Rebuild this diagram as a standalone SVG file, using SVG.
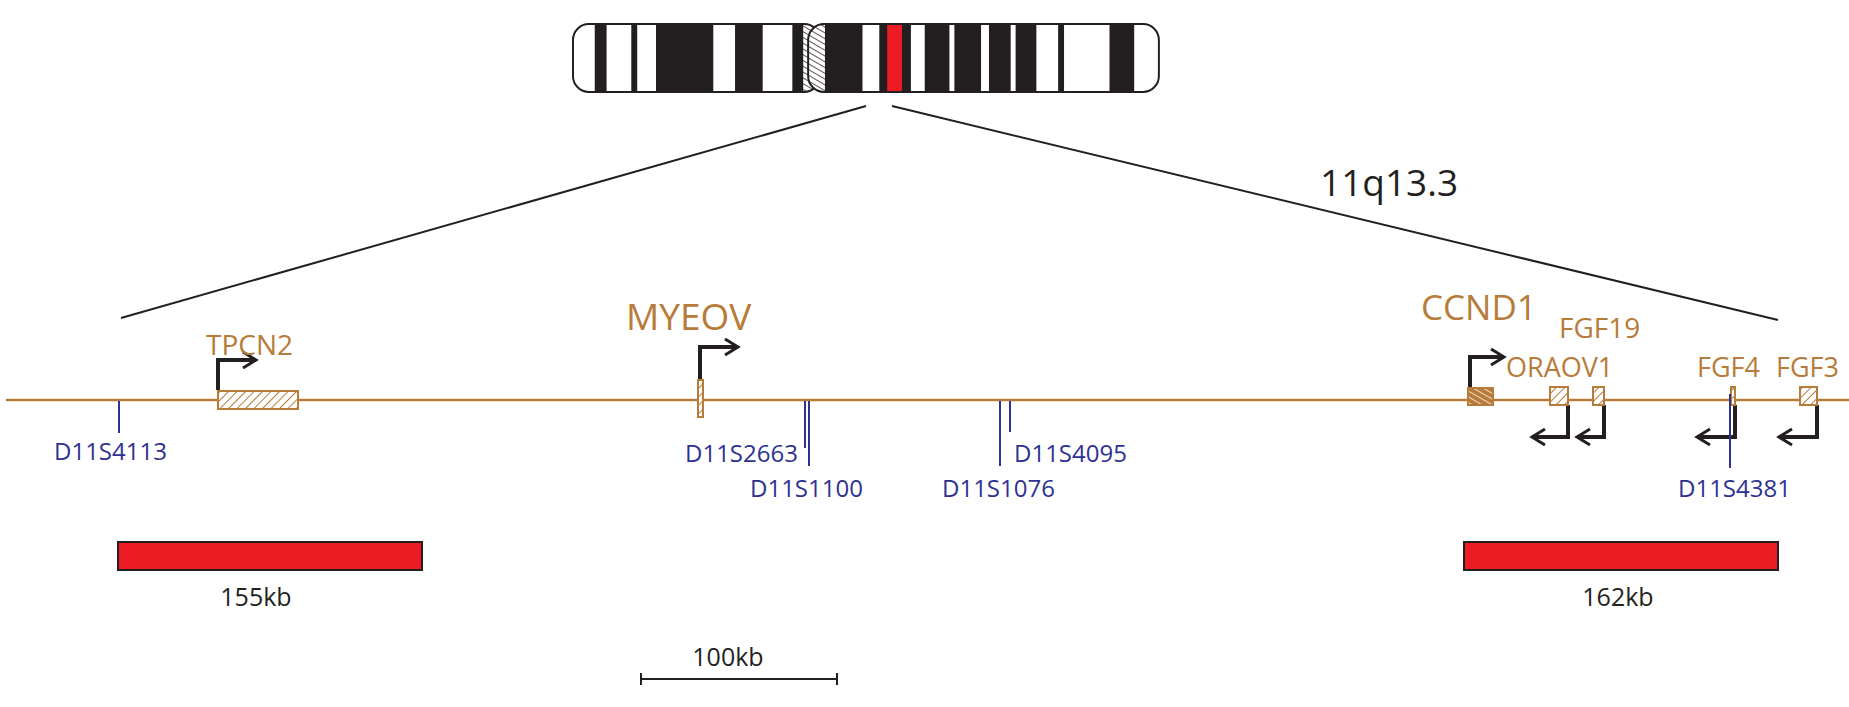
<svg xmlns="http://www.w3.org/2000/svg" width="1849" height="707" viewBox="0 0 1849 707">
<defs>
<pattern id="hatch" patternUnits="userSpaceOnUse" width="6" height="6" patternTransform="rotate(45)"><rect width="6" height="6" fill="#fff"/><line x1="0" y1="0" x2="0" y2="6" stroke="#b77b3a" stroke-width="2"/></pattern>
<pattern id="hatchw" patternUnits="userSpaceOnUse" width="5" height="5" patternTransform="rotate(-60)"><rect width="5" height="5" fill="#b77b3a"/><line x1="0" y1="0" x2="0" y2="5" stroke="#fff" stroke-width="1.5"/></pattern>
<pattern id="hatchk" patternUnits="userSpaceOnUse" width="5" height="5" patternTransform="rotate(-60)"><rect width="5" height="5" fill="#fff"/><line x1="0" y1="0" x2="0" y2="5" stroke="#231f20" stroke-width="1.5"/></pattern>
<marker id="ah" viewBox="0 0 10 10" refX="8" refY="5" markerWidth="20" markerHeight="20" orient="auto" markerUnits="userSpaceOnUse"><path d="M1.5,1 L8,5 L1.5,9" fill="none" stroke="#231f20" stroke-width="1.5"/></marker>
<clipPath id="armL"><rect x="573" y="24" width="250" height="68" rx="16"/></clipPath>
<clipPath id="armR"><rect x="811" y="24" width="355" height="68" rx="16"/></clipPath>
</defs>
<style>
.gene{font-family:"Open Sans","Liberation Sans",sans-serif;fill:#b77b3a}
.mk{font-family:"Open Sans","Liberation Sans",sans-serif;fill:#2e3192;font-size:24px}
.bk{font-family:"Open Sans","Liberation Sans",sans-serif;fill:#231f20;font-size:25px}
.tick{stroke:#2e3192;stroke-width:2}
.arr{fill:none;stroke:#231f20;stroke-width:4;marker-end:url(#ah)}
.ln{stroke:#231f20;stroke-width:2;fill:none}
.box{stroke:#b77b3a;stroke-width:2;fill:url(#hatch)}
</style>
<g id="chromosome" transform="translate(573,0) scale(0.988,1) translate(-573,0)">
<g clip-path="url(#armL)">
<rect x="573" y="24" width="250" height="68" fill="#231f20"/>
<rect x="573" y="24" width="22" height="68" fill="#fff"/>
<rect x="607" y="24" width="25" height="68" fill="#fff"/>
<rect x="638" y="24" width="19" height="68" fill="#fff"/>
<rect x="715" y="24" width="22" height="68" fill="#fff"/>
<rect x="765" y="24" width="30" height="68" fill="#fff"/>
<rect x="806" y="24" width="20" height="68" fill="url(#hatchk)"/>
</g>
<rect x="573" y="24" width="250" height="68" rx="16" fill="none" stroke="#231f20" stroke-width="2"/>
<g clip-path="url(#armR)">
<rect x="811" y="24" width="355" height="68" fill="#231f20"/>
<rect x="811" y="24" width="17" height="68" fill="url(#hatchk)"/>
<rect x="866" y="24" width="17" height="68" fill="#fff"/>
<rect x="891" y="24" width="15" height="68" fill="#ed1c24"/>
<rect x="915" y="24" width="14" height="68" fill="#fff"/>
<rect x="954" y="24" width="5" height="68" fill="#fff"/>
<rect x="986" y="24" width="8" height="68" fill="#fff"/>
<rect x="1016" y="24" width="5" height="68" fill="#fff"/>
<rect x="1042" y="24" width="22" height="68" fill="#fff"/>
<rect x="1070" y="24" width="46" height="68" fill="#fff"/>
<rect x="1141" y="24" width="25" height="68" fill="#fff"/>
</g>
<rect x="811" y="24" width="355" height="68" rx="16" fill="none" stroke="#231f20" stroke-width="2"/>
</g>
<g id="connectors">
<line class="ln" x1="866" y1="106" x2="121" y2="318"/>
<line class="ln" x1="892" y1="106" x2="1778" y2="320"/>
<line x1="6" y1="400" x2="1849" y2="400" stroke="#b77b3a" stroke-width="2.5"/>
<line class="tick" x1="119" y1="401" x2="119" y2="433"/>
<line class="tick" x1="805" y1="401" x2="805" y2="448"/>
<line class="tick" x1="809" y1="401" x2="809" y2="466"/>
<line class="tick" x1="1000" y1="401" x2="1000" y2="466"/>
<line class="tick" x1="1010" y1="401" x2="1010" y2="432"/>
<path class="arr" d="M218,390 V360 H256"/>
<path class="arr" d="M700,380 V347 H738"/>
<path class="arr" d="M1470,387 V357 H1504"/>
<path class="arr" d="M1568,405 V437 H1532"/>
<path class="arr" d="M1604,405 V437 H1577"/>
<path class="arr" d="M1735,405 V437 H1697"/>
<path class="arr" d="M1817,405 V437 H1779"/>
<line x1="641" y1="679" x2="837" y2="679" stroke="#231f20" stroke-width="2"/>
<line x1="641" y1="673" x2="641" y2="685" stroke="#231f20" stroke-width="2"/>
<line x1="837" y1="673" x2="837" y2="685" stroke="#231f20" stroke-width="2"/>
</g>
<text x="1320" y="196" class="bk" style="font-size:37px">11q13.3</text>
<g id="TPCN2"><rect class="box" x="218" y="391" width="80" height="18"/><text class="gene" x="206" y="355" font-size="28">TPCN2</text></g>
<g id="MYEOV"><rect class="box" x="698" y="380" width="5" height="37"/><text class="gene" x="626" y="330" font-size="37">MYEOV</text></g>
<g id="CCND1"><rect x="1468" y="388" width="25" height="17" fill="url(#hatchw)" stroke="#b77b3a" stroke-width="2"/><text class="gene" x="1421" y="320" font-size="35">CCND1</text></g>
<g id="ORAOV1"><rect class="box" x="1550" y="387" width="18" height="18"/><text class="gene" x="1506" y="377" font-size="27">ORAOV1</text></g>
<g id="FGF19"><rect class="box" x="1593" y="387" width="11" height="18"/><text class="gene" x="1559" y="338" font-size="28">FGF19</text></g>
<g id="FGF4"><rect class="box" x="1731" y="387" width="4" height="18"/><text class="gene" x="1697" y="377" font-size="27">FGF4</text></g>
<g id="FGF3"><rect class="box" x="1800" y="387" width="17" height="18"/><text class="gene" x="1776" y="377" font-size="27">FGF3</text></g>
<line class="tick" x1="1730" y1="394" x2="1730" y2="468"/>
<g id="markers">
<text class="mk" x="54" y="460">D11S4113</text>
<text class="mk" x="685" y="462">D11S2663</text>
<text class="mk" x="750" y="497">D11S1100</text>
<text class="mk" x="1014" y="462">D11S4095</text>
<text class="mk" x="942" y="497">D11S1076</text>
<text class="mk" x="1678" y="497">D11S4381</text>
</g>
<g id="bar155"><rect x="118" y="542" width="304" height="28" fill="#ed1c24" stroke="#231f20" stroke-width="2"/><text class="bk" x="256" y="606" text-anchor="middle">155kb</text></g>
<g id="bar162"><rect x="1464" y="542" width="314" height="28" fill="#ed1c24" stroke="#231f20" stroke-width="2"/><text class="bk" x="1618" y="606" text-anchor="middle">162kb</text></g>
<text class="bk" x="728" y="666" text-anchor="middle">100kb</text>
</svg>
